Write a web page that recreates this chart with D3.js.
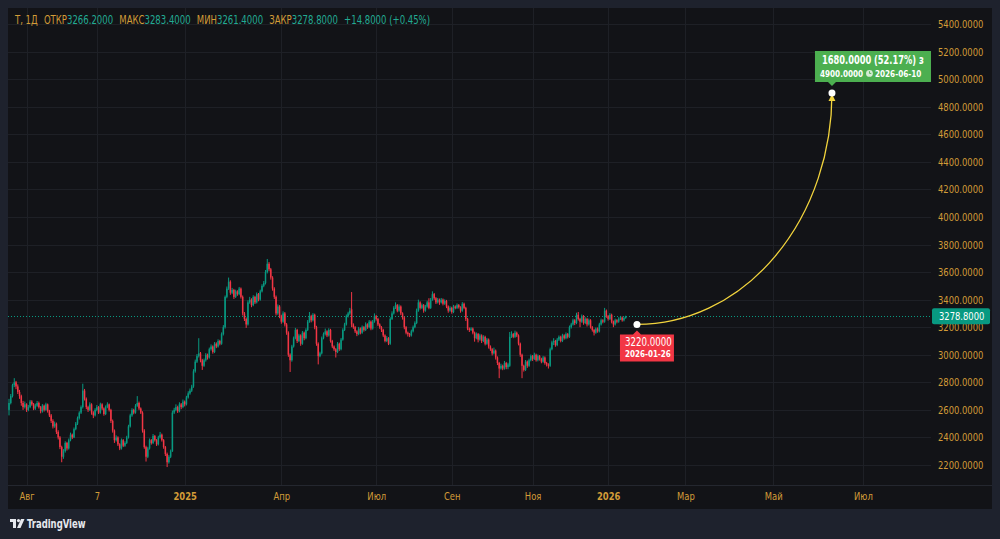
<!DOCTYPE html>
<html>
<head>
<meta charset="utf-8">
<script src="https://cdn.jsdelivr.net/npm/d3@7"></script>
<style>
html, body { margin: 0; padding: 0; background: #1e222d; }
svg { display: block; }
text { font-family: "DejaVu Sans Condensed", "Liberation Sans", Roboto, sans-serif; }
</style>
</head>
<body>
<div id="chart"></div>
<script>
// свечи: [откр, макс, мин, закр], по одной на торговый день
const candles = [
  [2600,2680,2560,2650],[2650,2715,2640,2700],[2700,2790,2690,2780],[2780,2830,2765,2800],[2800,2810,2750,2770],[2770,2785,2715,2730],[2730,2745,2680,2700],[2700,2710,2630,2650],
  [2650,2665,2600,2620],[2620,2660,2610,2640],[2640,2648,2585,2600],[2600,2635,2590,2620],[2620,2672,2612,2660],[2660,2670,2630,2640],[2640,2650,2598,2610],[2610,2645,2600,2630],
  [2630,2665,2622,2650],[2650,2660,2610,2620],[2620,2628,2575,2590],[2590,2642,2580,2630],[2630,2638,2588,2600],[2600,2652,2594,2640],[2640,2646,2580,2590],[2590,2600,2548,2560],
  [2560,2570,2505,2520],[2520,2532,2465,2480],[2480,2515,2470,2500],[2500,2508,2425,2440],[2440,2452,2385,2400],[2400,2410,2315,2330],[2330,2340,2220,2260],[2260,2315,2245,2300],
  [2300,2372,2290,2360],[2360,2368,2305,2320],[2320,2392,2312,2380],[2380,2435,2372,2420],[2420,2428,2388,2400],[2400,2472,2395,2460],[2460,2512,2452,2500],[2500,2552,2490,2540],
  [2540,2590,2530,2580],[2580,2632,2570,2620],[2620,2790,2610,2740],[2740,2752,2668,2680],[2680,2690,2605,2620],[2620,2630,2585,2600],[2600,2655,2592,2640],[2640,2648,2565,2580],
  [2580,2590,2540,2560],[2560,2612,2552,2600],[2600,2635,2590,2620],[2620,2628,2570,2580],[2580,2652,2572,2640],[2640,2648,2598,2610],[2610,2618,2558,2570],[2570,2632,2562,2620],
  [2620,2655,2612,2640],[2640,2646,2588,2600],[2600,2608,2505,2520],[2520,2530,2435,2450],[2450,2458,2360,2380],[2380,2415,2370,2400],[2400,2408,2338,2350],[2350,2358,2308,2320],
  [2320,2392,2312,2380],[2380,2388,2330,2340],[2340,2372,2332,2360],[2360,2412,2352,2400],[2400,2492,2392,2480],[2480,2572,2472,2560],[2560,2612,2550,2600],[2600,2608,2568,2580],
  [2580,2642,2572,2630],[2630,2700,2622,2650],[2650,2660,2598,2610],[2610,2618,2570,2580],[2580,2590,2435,2450],[2450,2460,2318,2330],[2330,2340,2225,2260],[2260,2332,2250,2320],
  [2320,2392,2312,2380],[2380,2388,2348,2360],[2360,2425,2352,2410],[2410,2418,2370,2380],[2380,2388,2338,2350],[2350,2412,2342,2400],[2400,2440,2392,2420],[2420,2428,2370,2380],
  [2380,2388,2318,2330],[2330,2338,2265,2280],[2280,2290,2185,2220],[2220,2272,2210,2260],[2260,2312,2250,2300],[2300,2595,2295,2580],[2580,2615,2570,2600],[2600,2640,2590,2620],
  [2620,2630,2578,2590],[2590,2655,2582,2640],[2640,2650,2605,2620],[2620,2675,2612,2660],[2660,2668,2625,2640],[2640,2702,2632,2690],[2690,2735,2682,2720],[2720,2755,2710,2740],
  [2740,2782,2730,2770],[2770,2895,2760,2880],[2880,2965,2870,2950],[2950,3005,2940,2990],[2990,3120,2980,3010],[3010,3020,2945,2960],[2960,2970,2890,2920],[2920,2972,2912,2960],
  [2960,3012,2950,3000],[3000,3008,2965,2980],[2980,3052,2972,3040],[3040,3075,3030,3060],[3060,3068,3008,3020],[3020,3092,3012,3080],[3080,3090,3048,3060],[3060,3112,3052,3100],
  [3100,3108,3068,3080],[3080,3162,3072,3150],[3150,3215,3140,3200],[3200,3430,3190,3420],[3420,3495,3410,3480],[3480,3560,3470,3530],[3530,3540,3435,3450],[3450,3485,3440,3470],
  [3470,3478,3405,3420],[3420,3472,3412,3460],[3460,3468,3428,3440],[3440,3492,3432,3480],[3480,3488,3408,3420],[3420,3430,3285,3300],[3300,3310,3245,3260],[3260,3270,3195,3220],
  [3220,3395,3212,3380],[3380,3420,3370,3400],[3400,3410,3345,3360],[3360,3432,3352,3420],[3420,3428,3368,3380],[3380,3452,3372,3440],[3440,3448,3388,3400],[3400,3472,3392,3460],
  [3460,3512,3452,3500],[3500,3535,3490,3520],[3520,3615,3510,3600],[3600,3695,3590,3660],[3660,3672,3605,3620],[3620,3630,3545,3560],[3560,3570,3465,3480],[3480,3490,3405,3420],
  [3420,3430,3285,3300],[3300,3365,3290,3350],[3350,3360,3265,3280],[3280,3290,3225,3240],[3240,3315,3232,3300],[3300,3310,3205,3220],[3220,3230,3145,3160],[3160,3170,2985,3000],
  [3000,3010,2875,2960],[2960,3072,2950,3060],[3060,3132,3052,3120],[3120,3195,3112,3180],[3180,3188,3085,3100],[3100,3152,3092,3140],[3140,3148,3065,3080],[3080,3172,3072,3160],
  [3160,3168,3105,3120],[3120,3192,3112,3180],[3180,3252,3172,3240],[3240,3310,3232,3280],[3280,3290,3235,3250],[3250,3302,3242,3290],[3290,3298,3185,3200],[3200,3210,3065,3080],
  [3080,3090,2930,2990],[2990,3022,2982,3010],[3010,3132,3002,3120],[3120,3162,3112,3150],[3150,3190,3140,3170],[3170,3178,3128,3140],[3140,3192,3132,3180],[3180,3188,3088,3100],
  [3100,3108,3048,3060],[3060,3068,3028,3040],[3040,3048,2980,3020],[3020,3092,3012,3080],[3080,3088,3028,3040],[3040,3122,3032,3110],[3110,3192,3102,3180],[3180,3232,3172,3220],
  [3220,3292,3212,3280],[3280,3312,3270,3300],[3300,3340,3290,3320],[3330,3455,3200,3220],[3220,3228,3188,3200],[3200,3208,3158,3170],[3170,3178,3135,3150],[3150,3202,3142,3190],
  [3190,3198,3148,3160],[3160,3212,3152,3200],[3200,3208,3168,3180],[3180,3235,3172,3220],[3220,3228,3188,3200],[3200,3252,3192,3240],[3240,3248,3178,3190],[3190,3252,3182,3240],
  [3240,3300,3232,3280],[3280,3288,3248,3260],[3260,3268,3208,3220],[3220,3228,3188,3200],[3200,3208,3165,3180],[3180,3188,3128,3140],[3140,3148,3090,3100],[3100,3135,3092,3120],
  [3120,3128,3070,3080],[3080,3272,3072,3260],[3260,3315,3252,3300],[3300,3352,3292,3340],[3340,3380,3332,3360],[3360,3368,3308,3320],[3320,3365,3312,3350],[3350,3358,3288,3300],
  [3300,3308,3255,3270],[3270,3278,3185,3200],[3200,3208,3148,3160],[3160,3168,3132,3150],[3150,3158,3128,3140],[3140,3182,3132,3170],[3170,3212,3162,3200],[3200,3242,3192,3230],
  [3230,3335,3222,3320],[3320,3400,3312,3380],[3380,3388,3328,3340],[3340,3372,3332,3360],[3360,3368,3305,3320],[3320,3362,3312,3350],[3350,3392,3342,3380],[3380,3410,3330,3340],
  [3340,3412,3332,3400],[3400,3460,3392,3440],[3440,3448,3398,3410],[3410,3418,3368,3380],[3380,3412,3372,3400],[3400,3408,3362,3380],[3380,3412,3372,3400],[3400,3408,3358,3370],
  [3370,3402,3362,3390],[3390,3398,3338,3350],[3350,3358,3305,3320],[3320,3352,3312,3340],[3340,3348,3298,3310],[3310,3362,3302,3350],[3350,3358,3330,3340],[3340,3372,3332,3360],
  [3360,3368,3335,3345],[3345,3352,3305,3320],[3320,3382,3312,3370],[3370,3378,3330,3340],[3340,3348,3245,3260],[3260,3268,3178,3190],[3190,3198,3165,3180],[3180,3200,3172,3190],
  [3190,3198,3148,3160],[3160,3168,3095,3120],[3120,3162,3112,3150],[3150,3158,3090,3110],[3110,3152,3102,3140],[3140,3148,3085,3100],[3100,3142,3092,3130],[3130,3138,3068,3080],
  [3080,3122,3072,3110],[3110,3118,3045,3060],[3060,3068,3028,3040],[3040,3048,2995,3010],[3010,3052,3002,3030],[3030,3038,2965,2980],[2980,2988,2925,2940],[2940,2948,2830,2900],
  [2900,2935,2892,2920],[2920,2928,2888,2900],[2900,2955,2892,2940],[2940,2948,2895,2910],[2910,2942,2895,2930],[2920,3165,2912,3130],[3130,3170,3122,3150],[3150,3158,3120,3130],
  [3130,3175,3122,3160],[3160,3168,3128,3140],[3140,3148,3068,3080],[3080,3088,2985,3000],[3000,3008,2830,2920],[2920,2928,2878,2890],[2890,2962,2882,2950],[2950,2958,2905,2920],
  [2920,2972,2912,2960],[2960,3002,2952,2990],[2990,2998,2955,2970],[2970,3015,2962,3000],[3000,3008,2950,2960],[2960,3002,2952,2990],[2990,2998,2958,2970],[2970,2978,2938,2950],
  [2950,2992,2942,2980],[2980,2988,2928,2940],[2940,2948,2915,2930],[2930,2938,2900,2920],[2920,3052,2912,3040],[3040,3102,3032,3090],[3090,3120,3070,3100],[3100,3108,3058,3070],
  [3070,3122,3062,3110],[3110,3140,3100,3130],[3130,3138,3090,3100],[3100,3152,3092,3140],[3140,3148,3110,3120],[3120,3162,3112,3150],[3150,3158,3118,3130],[3130,3212,3122,3200],
  [3200,3232,3190,3220],[3220,3262,3212,3250],[3250,3258,3215,3230],[3230,3305,3222,3290],[3290,3310,3248,3260],[3260,3268,3200,3240],[3240,3292,3232,3280],[3280,3288,3218,3230],
  [3230,3272,3222,3260],[3260,3268,3205,3220],[3220,3262,3212,3250],[3250,3258,3190,3200],[3200,3208,3168,3180],[3180,3188,3140,3160],[3160,3198,3152,3190],[3190,3198,3160,3170],
  [3170,3232,3162,3220],[3220,3262,3212,3250],[3250,3258,3228,3240],[3240,3340,3232,3320],[3320,3328,3268,3280],[3280,3288,3248,3260],[3260,3302,3252,3290],[3290,3298,3228,3240],
  [3240,3248,3200,3220],[3220,3262,3212,3250],[3250,3258,3228,3240],[3240,3272,3232,3260],[3260,3282,3252,3270],[3270,3278,3240,3250],[3250,3275,3242,3266.2],[3266.2,3283.4,3261.4,3278.8]
];

// шкала цен
const priceTicks = [2200,2400,2600,2800,3000,3200,3400,3600,3800,4000,4200,4400,4600,4800,5000,5200,5400];

// шкала времени: подпись и номер бара
const timeLabels = ["Авг","7","2025","Апр","Июл","Сен","Ноя","2026","Мар","Май","Июл"];
const timeBars   = [10, 50, 100, 155, 209, 252, 298, 341, 385, 435, 486];
const timeBold   = [false,false,true,false,false,false,false,true,false,false,false];

// шапка
const headerSymbol = "Т, 1Д";
const headerNames  = ["ОТКР","МАКС","МИН","ЗАКР"];
const headerValues = ["3266.2000","3283.4000","3261.4000","3278.8000"];
const headerChange = "+14.8000 (+0.45%)";
const lastPrice = 3278.8;

// прогноз
const forecastBars   = [357.4, 468.4];
const forecastPrices = [3220, 4900];
const forecastDates  = ["2026-01-26", "2026-06-10"];
const forecastTail   = "з";

const W = 1000, H = 539;
const panel = { left: 8, top: 8, right: 992, bottom: 509 };
const plot = { left: 8, top: 8, right: 931, bottom: 485 };

const UP = "#089981", DOWN = "#f23645", GOLD = "#d39c38", TEAL = "#22ab94";
const GRID = "#1e2026";
const NARROW = 0.85;

const svg = d3.select("#chart").append("svg").attr("width", W).attr("height", H);

// текст, сжатый по ширине
function label(parent, x, y, k) {
  return parent.append("text").attr("transform", `translate(${x},${y}) scale(${k},1)`);
}

svg.append("rect").attr("width", W).attr("height", H).attr("fill", "#1e222d");
svg.append("rect").attr("x", panel.left).attr("y", panel.top)
  .attr("width", panel.right - panel.left).attr("height", panel.bottom - panel.top)
  .attr("fill", "#121317");

const x = d3.scaleLinear().domain([0, candles.length - 1]).range([9, 625.7]);
const y = d3.scaleLinear().domain([2200, 5400]).range([465, 24]);

svg.append("clipPath").attr("id", "plotClip").append("rect")
  .attr("x", plot.left).attr("y", plot.top)
  .attr("width", plot.right - plot.left).attr("height", plot.bottom - plot.top);

// сетка
const grid = svg.append("g").attr("clip-path", "url(#plotClip)");
grid.selectAll("line.h").data(priceTicks).join("line")
  .attr("x1", plot.left).attr("x2", plot.right)
  .attr("y1", d => Math.round(y(d)) + 0.5).attr("y2", d => Math.round(y(d)) + 0.5)
  .attr("stroke", GRID).attr("stroke-width", 1);
grid.selectAll("line.v").data(timeBars).join("line")
  .attr("x1", d => Math.round(x(d)) + 0.5).attr("x2", d => Math.round(x(d)) + 0.5)
  .attr("y1", plot.top).attr("y2", plot.bottom)
  .attr("stroke", GRID).attr("stroke-width", 1);

// нижняя граница шкалы времени
svg.append("line").attr("x1", panel.left).attr("x2", panel.right)
  .attr("y1", plot.bottom + 0.5).attr("y2", plot.bottom + 0.5)
  .attr("stroke", "#24272f");

const plotG = svg.append("g").attr("clip-path", "url(#plotClip)");

// линия последней цены
plotG.append("line")
  .attr("x1", plot.left).attr("x2", plot.right)
  .attr("y1", Math.round(y(lastPrice)) + 0.5).attr("y2", Math.round(y(lastPrice)) + 0.5)
  .attr("stroke", UP).attr("stroke-dasharray", "1,2").attr("stroke-width", 1);

// свечи
const bw = 1.5;
const cg = plotG.append("g");
cg.selectAll("line").data(candles).join("line")
  .attr("x1", (d, i) => x(i)).attr("x2", (d, i) => x(i))
  .attr("y1", d => y(d[1])).attr("y2", d => y(d[2]))
  .attr("stroke", d => d[3] >= d[0] ? UP : DOWN).attr("stroke-width", 1);
cg.selectAll("rect").data(candles).join("rect")
  .attr("x", (d, i) => x(i) - bw / 2).attr("width", bw)
  .attr("y", d => y(Math.max(d[0], d[3])))
  .attr("height", d => Math.max(1, Math.abs(y(d[0]) - y(d[3]))))
  .attr("fill", d => d[3] >= d[0] ? UP : DOWN);

// дуга прогноза
const fx0 = x(forecastBars[0]), fy0 = y(forecastPrices[0]);
const fx1 = x(forecastBars[1]), fy1 = y(forecastPrices[1]);
plotG.append("path")
  .attr("d", `M${fx0},${fy0} A${fx1 - fx0},${fy0 - fy1} 0 0 0 ${fx1},${fy1}`)
  .attr("fill", "none").attr("stroke", "#f2d43d").attr("stroke-width", 1.3);
plotG.append("path")
  .attr("d", `M${fx1},${fy1 + 1} L${fx1 - 3.5},${fy1 + 8} L${fx1 + 3.5},${fy1 + 8} Z`)
  .attr("fill", "#f2d43d");
plotG.selectAll("circle.pt").data([[fx0, fy0], [fx1, fy1]]).join("circle")
  .attr("cx", d => d[0]).attr("cy", d => d[1]).attr("r", 3.5).attr("fill", "#ffffff");

// метка начала
const change = forecastPrices[1] - forecastPrices[0];
const pct = change / forecastPrices[0] * 100;
const redG = plotG.append("g");
redG.append("path")
  .attr("d", `M${fx0 - 17},${fy0 + 10} H${fx0 - 4} L${fx0},${fy0 + 6} L${fx0 + 4},${fy0 + 10} H${fx0 + 37} V${fy0 + 37} H${fx0 - 17} Z`)
  .attr("fill", DOWN);
label(redG, fx0 - 12, fy0 + 22, 0.84)
  .attr("fill", "#fff").attr("font-size", 11.5).text(d3.format(".4f")(forecastPrices[0]));
label(redG, fx0 - 12, fy0 + 33, 0.84)
  .attr("fill", "#fff").attr("font-size", 9.5).attr("font-weight", "bold").text(forecastDates[0]);

// метка конца
const grG = plotG.append("g");
const by = fy1 - 11;
grG.append("path")
  .attr("d", `M${fx1 - 17},${by - 31} H${fx1 + 140} V${by} H${fx1 + 4} L${fx1},${by + 4} L${fx1 - 4},${by} H${fx1 - 17} Z`)
  .attr("fill", "#4caf50");
label(grG, fx1 - 10, by - 18, 0.8)
  .attr("fill", "#fff").attr("font-size", 11.5).attr("font-weight", "bold")
  .text(`${d3.format(".4f")(change)} (${d3.format(".2f")(pct)}%) ${forecastTail}`);
label(grG, fx1 - 12, by - 5, 0.85)
  .attr("fill", "#fff").attr("font-size", 9.5).attr("font-weight", "bold")
  .text(d3.format(".4f")(forecastPrices[1]));
const clk = grG.append("g").attr("transform", `translate(${fx1 + 37.5},${by - 8.5})`);
clk.append("circle").attr("r", 3.4).attr("fill", "#d4ecd4");
clk.append("path").attr("d", "M0,-2.2 V0 H1.8").attr("stroke", "#4caf50").attr("stroke-width", 0.9).attr("fill", "none");
label(grG, fx1 + 43, by - 5, 0.85)
  .attr("fill", "#fff").attr("font-size", 9.5).attr("font-weight", "bold")
  .text(forecastDates[1]);

// шкала цен
const yAxis = d3.axisRight(y).tickValues(priceTicks).tickFormat(d3.format(".4f")).tickSize(0).tickPadding(0);
const ya = svg.append("g").attr("transform", `translate(938,0)`).call(yAxis);
ya.select(".domain").remove();
ya.selectAll("text").attr("fill", GOLD).attr("font-size", 11)
  .attr("font-family", '"DejaVu Sans Condensed", "Liberation Sans", Roboto, sans-serif')
  .attr("transform", `scale(${NARROW},1)`);

// метка последней цены
const ly = y(lastPrice);
svg.append("rect").attr("x", 932).attr("y", ly - 8).attr("width", 58).attr("height", 16)
  .attr("rx", 2).attr("fill", UP);
label(svg, 939, ly + 4, NARROW).attr("fill", "#fff").attr("font-size", 11)
  .text(d3.format(".4f")(lastPrice));

// шкала времени
const xAxis = d3.axisBottom(x).tickValues(timeBars)
  .tickFormat((d, i) => timeLabels[i]).tickSize(0).tickPadding(0);
const xa = svg.append("g").attr("transform", `translate(0,${plot.bottom + 7})`).call(xAxis);
xa.select(".domain").remove();
xa.selectAll("text").attr("fill", GOLD).attr("font-size", 11)
  .attr("font-family", '"DejaVu Sans Condensed", "Liberation Sans", Roboto, sans-serif')
  .attr("font-weight", (d, i) => timeBold[i] ? "bold" : null)
  .attr("transform", `scale(${NARROW},1)`);

// шапка
const hd = label(svg, 15, 24, 0.825).attr("font-size", 11.5);
hd.append("tspan").attr("fill", GOLD).text(headerSymbol);
headerNames.forEach((n, i) => {
  hd.append("tspan").attr("fill", GOLD).attr("dx", 7.5).text(n);
  hd.append("tspan").attr("fill", TEAL).text(headerValues[i]);
});
hd.append("tspan").attr("fill", TEAL).attr("dx", 7.5).text(headerChange);

// логотип
const logo = svg.append("g").attr("transform", "translate(10,519)");
logo.append("path").attr("d", "M0,0 H6 V9 H3 V3 H0 Z").attr("fill", "#e6e8ee");
logo.append("circle").attr("cx", 8.5).attr("cy", 1.6).attr("r", 1.6).attr("fill", "#e6e8ee");
logo.append("path").attr("d", "M11,0 H14.5 L10.5,9 H7 Z").attr("fill", "#e6e8ee");
label(svg, 27, 528, 0.82).attr("fill", "#e6e8ee")
  .attr("font-size", 11.5).attr("font-weight", "bold").text("TradingView");
</script>
</body>
</html>
